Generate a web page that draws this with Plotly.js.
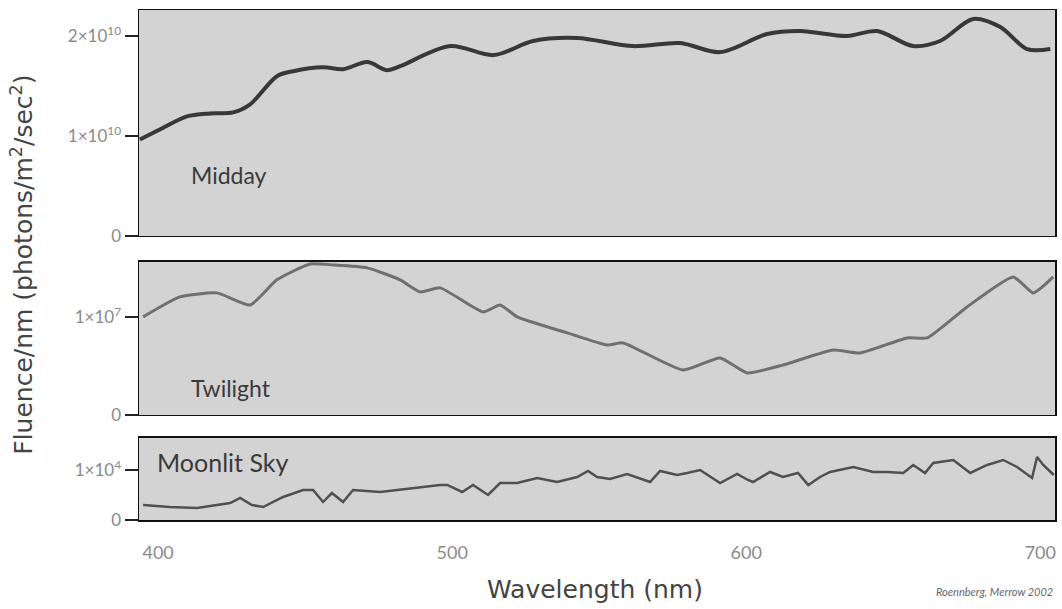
<!DOCTYPE html>
<html>
<head>
<meta charset="utf-8">
<script src="https://cdn.plot.ly/plotly-3.0.1.min.js"></script>
<style>html,body{margin:0;padding:0;background:#fff;}#chart{width:1062px;height:609px;}</style>
</head>
<body>
<div id="chart"></div>
<script>
// Midday (photons/m2/sec2 per nm)
const middayWl = [393.8,400.6,409.8,417.6,425.5,431.3,440.4,445.9,456.1,462.9,471.1,477.9,482.3,499.3,514.2,527.5,542.5,561.5,577.5,591.1,607.1,618.3,634.3,644.5,656.8,665.9,677.2,686.4,695.5,703.4];
const middayVal = [0.965e10,1.065e10,1.196e10,1.226e10,1.236e10,1.317e10,1.598e10,1.648e10,1.688e10,1.668e10,1.739e10,1.658e10,1.698e10,1.899e10,1.809e10,1.950e10,1.980e10,1.899e10,1.930e10,1.839e10,2.020e10,2.050e10,2.000e10,2.050e10,1.899e10,1.950e10,2.171e10,2.090e10,1.869e10,1.869e10];

// Twilight
const twilightWl = [394.9,407.4,420.0,431.3,440.4,451.7,459.5,471.1,482.3,489.1,495.9,510.5,516.3,522.1,539.1,552.7,558.1,578.5,591.1,600.3,612.5,629.6,638.7,654.7,661.5,675.1,690.8,697.6,704.4];
const twilightVal = [1.000e7,1.204e7,1.245e7,1.122e7,1.378e7,1.540e7,1.530e7,1.500e7,1.378e7,1.255e7,1.296e7,1.051e7,1.122e7,1.000e7,0.837e7,0.714e7,0.735e7,0.459e7,0.582e7,0.429e7,0.510e7,0.663e7,0.633e7,0.786e7,0.786e7,1.102e7,1.408e7,1.245e7,1.408e7];

// Moonlit sky
const moonWl = [394.9,404.0,413.2,424.5,427.9,431.9,435.7,442.5,449.3,452.7,456.1,459.1,462.9,466.3,475.5,486.7,495.9,498.3,503.4,507.1,512.2,516.3,522.1,528.9,535.7,542.5,546.2,549.3,553.7,559.5,567.3,570.7,576.5,579.9,584.3,591.1,596.9,600.6,602.3,608.1,612.5,617.6,621.1,625.1,628.5,636.4,643.2,647.9,653.4,656.8,660.8,663.6,670.4,676.2,681.9,687.4,692.1,697.2,698.9,701.0,704.6];
const moonVal = [0.30e4,0.26e4,0.24e4,0.34e4,0.44e4,0.30e4,0.26e4,0.46e4,0.60e4,0.60e4,0.36e4,0.54e4,0.36e4,0.60e4,0.56e4,0.64e4,0.70e4,0.70e4,0.56e4,0.70e4,0.50e4,0.74e4,0.74e4,0.84e4,0.76e4,0.86e4,0.98e4,0.86e4,0.82e4,0.92e4,0.76e4,0.98e4,0.90e4,0.94e4,1.00e4,0.74e4,0.92e4,0.80e4,0.76e4,0.96e4,0.86e4,0.94e4,0.70e4,0.86e4,0.96e4,1.06e4,0.96e4,0.96e4,0.94e4,1.10e4,0.94e4,1.14e4,1.20e4,0.94e4,1.10e4,1.20e4,1.06e4,0.84e4,1.26e4,1.10e4,0.90e4];

const xTicks = [400,500,600,700];
const middayTicks = [0,1e10,2e10];
const middayTickText = ['0','1×10<sup>10</sup>','2×10<sup>10</sup>'];
const twilightTicks = [0,1e7];
const twilightTickText = ['0','1×10<sup>7</sup>'];
const moonTicks = [0,1e4];
const moonTickText = ['0','1×10<sup>4</sup>'];

const FONT = 'Lato, "Open Sans", sans-serif';
const WIDE = '"DejaVu Sans", Lato, sans-serif';
const bg = '#d3d3d3';

const traces = [
  {x: middayWl, y: middayVal, xaxis:'x', yaxis:'y', mode:'lines', line:{color:'#383838', width:4, shape:'spline', smoothing:0.9}, hoverinfo:'skip'},
  {x: twilightWl, y: twilightVal, xaxis:'x2', yaxis:'y2', mode:'lines', line:{color:'#707070', width:3, shape:'spline', smoothing:0.5}, hoverinfo:'skip'},
  {x: moonWl, y: moonVal, xaxis:'x3', yaxis:'y3', mode:'lines', line:{color:'#505050', width:2.5}, hoverinfo:'skip'}
];

const xRange = [393.5, 705];
function xa(showLabels){
  return {range:xRange, showgrid:false, zeroline:false, showline:true, mirror:true, linecolor:'#111', linewidth:1.5,
    ticks:'', tickvals:xTicks, showticklabels:showLabels, ticklabelstandoff:16,
    tickfont:{family:FONT, size:18, color:'#8a8a8a'}, fixedrange:true};
}
function ya(range, domain, vals, text){
  return {range:range, domain:domain, showgrid:false, zeroline:false, showline:true, mirror:true, linecolor:'#111', linewidth:1.5,
    ticks:'outside', ticklen:13, tickwidth:2.5, tickcolor:'#222', tickvals:vals, ticktext:text,
    tickfont:{family:FONT, size:17, color:'#8a8a8a'}, fixedrange:true};
}

const layout = {
  width:1062, height:609,
  margin:{l:139, r:7, t:10, b:89},
  paper_bgcolor:'#ffffff', plot_bgcolor:bg,
  showlegend:false,
  xaxis: Object.assign(xa(false), {anchor:'y'}),
  xaxis2: Object.assign(xa(false), {anchor:'y2', matches:'x'}),
  xaxis3: Object.assign(xa(true), {anchor:'y3', matches:'x'}),
  yaxis: Object.assign(ya([0,2.26e10],[0.5569,1], middayTicks, middayTickText), {anchor:'x'}),
  yaxis2: Object.assign(ya([0,1.56e7],[0.2059,0.5059], twilightTicks, twilightTickText), {anchor:'x2'}),
  yaxis3: Object.assign(ya([0,1.64e4],[0,0.1608], moonTicks, moonTickText), {anchor:'x3'}),
  annotations:[
    {text:'Midday', xref:'paper', yref:'paper', x:0.055, y:0.676, xanchor:'left', yanchor:'middle', showarrow:false, font:{family:FONT, size:23, color:'#3a3a3a'}},
    {text:'Twilight', xref:'paper', yref:'paper', x:0.055, y:0.259, xanchor:'left', yanchor:'middle', showarrow:false, font:{family:FONT, size:23, color:'#3a3a3a'}},
    {text:'Moonlit Sky', xref:'paper', yref:'paper', x:0.017, y:0.114, xanchor:'left', yanchor:'middle', showarrow:false, font:{family:FONT, size:25, color:'#3a3a3a'}},
    {text:'Fluence/nm (photons/m<sup>2</sup>/sec<sup>2</sup>)', xref:'paper', yref:'paper', x:-0.128, y:0.5, xanchor:'center', yanchor:'middle', textangle:-90, showarrow:false, font:{family:WIDE, size:25, color:'#444'}},
    {text:'Wavelength (nm)', xref:'paper', yref:'paper', x:0.498, y:-0.137, xanchor:'center', yanchor:'middle', showarrow:false, font:{family:WIDE, size:25, color:'#444'}},
    {text:'<i>Roennberg, Merrow 2002</i>', xref:'paper', yref:'paper', x:1.0, y:-0.141, xanchor:'right', yanchor:'middle', showarrow:false, font:{family:FONT, size:11, color:'#666'}}
  ]
};

Plotly.newPlot('chart', traces, layout, {staticPlot:true, displayModeBar:false});
</script>
</body>
</html>
